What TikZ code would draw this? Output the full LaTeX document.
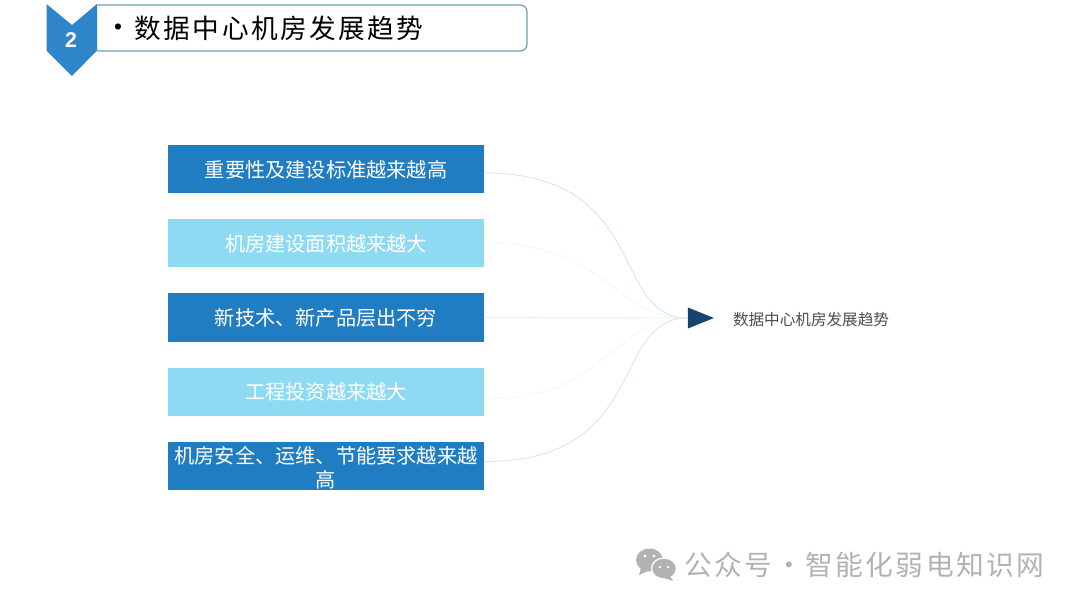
\documentclass[tikz,border=0pt]{standalone}
\usepackage{fontspec}
\setmainfont{Noto Sans CJK SC}
\newfontfamily\spacedfont[LetterSpace=9]{Noto Sans CJK SC}
\newfontfamily\digitfont{Liberation Sans}
\usepackage{tikz}
\usetikzlibrary{shapes.geometric}

\definecolor{boxdark}{RGB}{33,125,193}
\definecolor{boxlight}{RGB}{143,218,243}
\definecolor{chevronblue}{RGB}{46,134,200}
\definecolor{titleline}{RGB}{110,160,178}
\definecolor{navy}{RGB}{22,68,110}
\definecolor{markgray}{RGB}{178,178,178}

\tikzset{
  trendbox/.style={minimum width=237pt,minimum height=36pt,inner sep=0pt,align=center,text=white,
    text height=14.5pt,text depth=1.8pt,font=\fontsize{15.15}{18}\selectfont},
  darkbox/.style={trendbox,fill=boxdark},
  lightbox/.style={trendbox,fill=boxlight},
  flowline/.style={line width=0.6pt}
}

\begin{document}
\begin{tikzpicture}[x=0.75pt,y=0.75pt,yscale=-1]
\useasboundingbox (0,0) rectangle (1080,608);

%Shape: Title bar
\draw [color=titleline,line width=0.9pt,fill=white] (97,5) [rounded corners=5pt] -- (527,5) -- (527,51) [sharp corners] -- (97,51) ;
%Shape: Chevron
\fill [chevronblue] (46.5,4) -- (72,25) -- (97,4) -- (97,50.5) -- (72,76) -- (46.5,50.5) -- cycle ;

% Text Node
\node (badge) at (71,40) [text=white,font=\digitfont\bfseries\fontsize{16}{18}\selectfont] {2};
% Text Node
\node (bullet) at (118,29) [text=black,font=\digitfont\fontsize{17}{18}\selectfont] {•};
% Text Node
\node (title) at (279,28) [text=black,font=\spacedfont\fontsize{20}{24}\selectfont] {数据中心机房发展趋势};

% Boxes
\node (standard) at (326,169) [darkbox] {重要性及建设标准越来越高};
\node (area) at (326,243) [lightbox] {机房建设面积越来越大};
\node (product) at (326,317.5) [darkbox,minimum height=36.75pt] {新技术、新产品层出不穷};
\node (invest) at (326,391.5) [lightbox] {工程投资越来越大};
\node (safety) at (326,465.5) [darkbox,text height=34pt,text depth=1.2pt] {机房安全、运维、节能要求越来越\\高};

% Arrow head and its label
\node (trend) at (695,318) [isosceles triangle,isosceles triangle stretches,shape border rotate=0,fill=navy,inner sep=0pt,minimum width=15.75pt,minimum height=19.5pt] {};
\node (trendlabel) at (811,320) [text=black!70,font=\fontsize{11.7}{14}\selectfont] {数据中心机房发展趋势};

% Connection
\draw [flowline,color={rgb,255:red,213;green,227;blue,234}] ([yshift=3pt]standard.east) .. controls (650,173) and (610,318) .. (trend.west) ;
\draw [flowline,color={rgb,255:red,238;green,246;blue,249}] (area.east) .. controls (610,243) and (610,318) .. (trend.west) ;
\draw [flowline,color={rgb,255:red,226;green,240;blue,244}] (product.east) -- (trend.west) ;
\draw [flowline,color={rgb,255:red,238;green,246;blue,249}] ([yshift=5.6pt]invest.east) .. controls (610,399) and (610,318) .. (trend.west) ;
\draw [flowline,color={rgb,255:red,213;green,227;blue,234}] ([yshift=-3pt]safety.east) .. controls (650,462) and (610,318) .. (trend.west) ;

%Shape: Chat bubbles
\fill [markgray] (649.5,560) ellipse (13.5 and 11.5) ;
\fill [markgray] (641,568) -- (639,575) -- (648,571) -- cycle ;
\draw [white,line width=1pt,fill=markgray] (664,568.5) ellipse (12.5 and 10.5) ;
\fill [markgray] (670,576) -- (673,581) -- (664,578) -- cycle ;
\fill [white] (645,556) circle (1.7) ;
\fill [white] (654,556) circle (1.7) ;
\fill [white] (660,567) circle (1.4) ;
\fill [white] (668,567) circle (1.4) ;

% Text Node
\node (mark) at (864.5,565) [text=markgray,font=\spacedfont\fontsize{20.8}{24}\selectfont] {公众号·智能化弱电知识网};

\end{tikzpicture}
\end{document}
